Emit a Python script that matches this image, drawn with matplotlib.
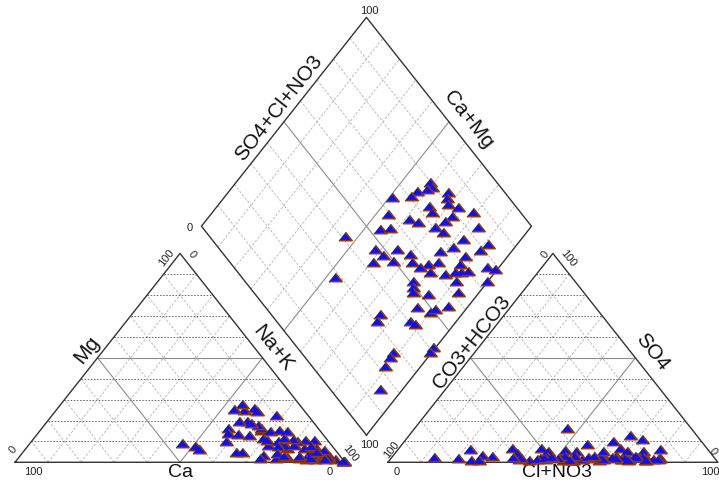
import matplotlib
matplotlib.use('Agg')
import matplotlib.pyplot as plt
import numpy as np

plt.rcParams['font.family'] = ['Liberation Sans', 'DejaVu Sans']

# cation and anion percentages (meq %) for each sample
na_k = [58.7, 60.4, 56.7, 59.3, 50.7, 56.2, 66.6, 67.6, 64.2, 69.4,
        73.3, 66.3, 79.0, 53.7, 61.2, 64.6, 73.3, 72.5, 71.0, 74.7,
        84.1, 54.7, 57.6, 45.9, 82.4, 91.1, 58.0, 62.1, 64.6, 69.8,
        78.1, 81.3, 86.9, 90.2, 60.7, 66.4, 72.3, 77.8, 80.4, 87.4,
        76.0, 80.3, 85.2, 87.8, 89.8, 91.5, 96.2, 99.2, 77.2, 78.8,
        80.0, 84.9, 93.6, 99.4, 90.1, 84.6, 89.8, 90.5, 93.8, 75.1,
        75.7, 85.8, 88.1, 99.2, 99.4, 88.3, 88.5, 89.0, 93.0, 52.6]
mg = [10.4, 19.6, 25.2, 26.0, 7.6, 16.4, 15.6, 22.8, 13.2, 11.6,
      3.7, 16.4, 6.8, 25.5, 24.4, 18.0, 2.1, 8.4, 10.8, 10.0,
      6.8, 28.0, 14.0, 9.2, 10.8, 2.0, 19.6, 18.8, 4.8, 14.8,
      2.1, 2.5, 3.7, 1.5, 13.7, 4.8, 15.3, 8.0, 10.4, 1.6,
      7.6, 8.4, 10.8, 6.8, 3.0, 3.5, 1.5, 0.5, 4.5, 11.1,
      3.2, 2.1, 3.0, 0.4, 4.0, 3.2, 2.5, 6.0, 2.2, 14.8,
      11.6, 7.6, 2.9, 0.6, 0.5, 3.7, 2.1, 5.0, 1.8, 6.5]
cl_no3 = [74.5, 77.1, 72.2, 74.7, 63.6, 67.6, 81.0, 79.5, 67.0, 66.9,
          71.3, 63.2, 79.3, 54.3, 55.8, 64.3, 77.4, 69.8, 67.5, 70.3,
          81.6, 50.9, 55.6, 34.3, 73.3, 81.2, 45.2, 45.6, 52.7, 50.9,
          63.4, 69.8, 70.8, 76.1, 42.4, 43.1, 52.1, 58.2, 61.1, 66.8,
          55.4, 55.2, 46.0, 64.3, 62.5, 68.2, 74.1, 77.7, 45.9, 46.6,
          46.9, 50.5, 59.5, 72.4, 61.1, 44.3, 46.7, 48.5, 54.8, 30.1,
          26.8, 39.1, 36.8, 39.3, 36.6, 21.6, 24.8, 20.2, 12.6, 27.2]
so4 = [5.3, 2.0, 1.5, 2.5, 1.0, 3.0, 2.0, 1.5, 6.8, 13.2,
       11.1, 10.0, 6.4, 5.3, 8.9, 2.5, 1.0, 5.3, 3.0, 1.5,
       2.0, 2.5, 1.0, 6.8, 3.0, 1.5, 2.0, 2.5, 1.0, 5.7,
       3.0, 1.5, 2.0, 2.5, 1.0, 6.8, 3.0, 1.5, 2.0, 2.5,
       1.0, 3.0, 16.4, 1.5, 5.3, 2.0, 2.5, 1.0, 5.3, 3.0,
       1.5, 2.0, 2.5, 1.0, 3.0, 1.5, 2.0, 2.5, 1.0, 3.0,
       3.7, 1.5, 4.5, 2.0, 2.5, 6.4, 1.0, 2.0, 2.5, 1.0]

ticks = np.arange(10, 100, 10)

H = np.sqrt(3) / 2
GAP = 13
AX0 = 100 + GAP              # left corner of the anion triangle
BX, BY = 100 + GAP / 2, GAP * H  # bottom corner of the diamond

XLIM = (-4.545, 213.33)
YLIM = (-7.34, 192.08)

na_k = np.array(na_k)
mg = np.array(mg)
cl_no3 = np.array(cl_no3)
so4 = np.array(so4)
ca = 100 - na_k - mg
hco3 = 100 - cl_no3 - so4


def tri_xy(right, top, ox):
    return ox + right + top / 2, top * H


def dia_xy(n, a):
    return BX - (100 - n) / 2 + a / 2, BY + ((100 - n) + a) * H


fig = plt.figure(figsize=(7.19, 4.81), dpi=100)
ax = fig.add_axes([0, 0, 1, 1])
ax.set_xlim(*XLIM)
ax.set_ylim(*YLIM)
ax.axis('off')

edge = dict(color='#333333', lw=1.0, zorder=3)
mid = dict(color='#8c8c8c', lw=0.8, zorder=2)
hgrid = dict(color='#6a6a6a', lw=0.7, ls=(0, (1.6, 1.6)), zorder=1)
dgrid = dict(color='#b0b0b0', lw=0.6, ls=(0, (3, 2)), zorder=1)


def draw_triangle(ox):
    ax.plot([ox, ox + 100, ox + 50, ox], [0, 0, 100 * H, 0], **edge)
    for k in ticks:
        st = mid if k == 50 else hgrid
        ax.plot([ox + k / 2, ox + 100 - k / 2], [k * H, k * H], **st)
        st = mid if k == 50 else dgrid
        ax.plot([ox + k, ox + k + (100 - k) / 2], [0, (100 - k) * H], **st)
        ax.plot([ox + 100 - k, ox + (100 - k) / 2], [0, (100 - k) * H], **st)


draw_triangle(0)
draw_triangle(AX0)

# diamond outline and grid
cx, cy = zip(*[dia_xy(100, 0), dia_xy(0, 0), dia_xy(0, 100), dia_xy(100, 100), dia_xy(100, 0)])
ax.plot(cx, cy, **edge)
for k in ticks:
    st = mid if k == 50 else dgrid
    x1, y1 = dia_xy(0, k)
    x2, y2 = dia_xy(100, k)
    ax.plot([x1, x2], [y1, y2], **st)
    x1, y1 = dia_xy(k, 0)
    x2, y2 = dia_xy(k, 100)
    ax.plot([x1, x2], [y1, y2], **st)

# samples
tri = [(-1, -0.63), (1, -0.63), (0, 0.63)]
mk = dict(ls='none', marker=tri, ms=9.5, mfc='#1010e8', mec='#8b3a12', mew=1.2,
          zorder=5, clip_on=False)
x, y = tri_xy(na_k, mg, 0)
ax.plot(x, y, **mk)
x, y = tri_xy(cl_no3, so4, AX0)
ax.plot(x, y, **mk)
x, y = dia_xy(na_k, cl_no3 + so4)
ax.plot(x, y, **mk)

# rotation of text running along the sloped edges
sx = 719 / (XLIM[1] - XLIM[0])
sy = 481 / (YLIM[1] - YLIM[0])
ang = np.degrees(np.arctan2(H * sy, 0.5 * sx))

lab = dict(fontsize=15, ha='center', va='center', color='#111111')
ax.text(21.8, 46.9, 'Mg', rotation=ang, **lab)
ax.text(78.3, 47.8, 'Na+K', rotation=-ang, **lab)
ax.text(AX0 + 25.4, 50.0, 'CO3+HCO3', rotation=ang, **lab)
ax.text(AX0 + 80.2, 46.3, 'SO4', rotation=-ang, **lab)
ax.text(80.0, 147.2, 'SO4+Cl+NO3', rotation=ang, **lab)
ax.text(137.4, 142.3, 'Ca+Mg', rotation=-ang, **lab)
bot = dict(fontsize=14, ha='center', va='top', color='#111111')
ax.text(50.0, -0.2, 'Ca', **bot)
ax.text(AX0 + 51.2, -0.2, 'Cl+NO3', **bot)

tk = dict(fontsize=8, ha='center', va='center', color='#222222')
# cation triangle
ax.text(5.5, -3.6, '100', **tk)
ax.text(95.5, -3.6, '0', **tk)
ax.text(-0.6, 5.5, '0', rotation=ang, **tk)
ax.text(46.0, 85.0, '100', rotation=ang, **tk)
ax.text(53.6, 86.6, '0', rotation=-ang, **tk)
ax.text(101.5, 4.3, '100', rotation=-ang, **tk)
# anion triangle
ax.text(AX0 + 2.8, -3.6, '0', **tk)
ax.text(AX0 + 97.6, -3.6, '100', **tk)
ax.text(AX0 + 1.2, 5.5, '100', rotation=ang, **tk)
ax.text(AX0 + 47.6, 86.4, '0', rotation=ang, **tk)
ax.text(AX0 + 54.6, 85.0, '100', rotation=-ang, **tk)
ax.text(AX0 + 98.6, 4.7, '0', rotation=-ang, **tk)
# diamond
ax.text(BX + 0.8, BY + 173.2 + 3.2, '100', **tk)
ax.text(BX - 53.5, BY + 86.6 - 0.5, '0', **tk)
ax.text(BX + 0.8, BY - 3.6, '100', **tk)

fig.savefig('out.png', dpi=100)
plt.close(fig)
